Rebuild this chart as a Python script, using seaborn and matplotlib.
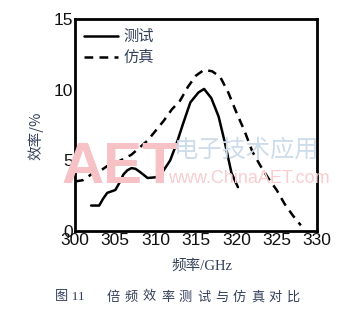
import numpy as np
import pandas as pd
import matplotlib
matplotlib.use("Agg")
import matplotlib.pyplot as plt
import seaborn as sns
from matplotlib.ticker import MultipleLocator

# 测试 (measured) curve
freq_test = [302, 303, 303.5, 304, 305, 305.5, 306, 306.5, 307, 307.5, 308, 309, 310,
             310.5, 311, 311.8, 312.6, 313.4, 314.3, 315.3, 316, 316.9, 317.8, 318.6,
             319.4, 320.2]
eff_test = [1.8, 1.8, 2.3, 2.7, 2.9, 3.4, 4.0, 4.3, 4.45, 4.4, 4.2, 3.75, 3.8,
            4.0, 4.3, 5.0, 6.2, 7.6, 9.1, 9.8, 10.05, 9.4, 8.1, 6.2,
            4.1, 3.1]

# 仿真 (simulated) curve
freq_sim = [300, 301, 302, 303, 304, 305, 306, 307, 308, 309, 310, 311, 312, 313, 314,
            315, 316, 317, 318, 319, 320, 321, 322, 323, 324, 325, 326, 327, 328]
eff_sim = [3.5, 3.6, 4.0, 4.2, 4.6, 4.8, 5.1, 5.4, 5.9, 6.4, 7.1, 7.8, 8.6, 9.2, 10.2,
           11.0, 11.4, 11.3, 10.9, 9.8, 8.4, 7.1, 5.6, 4.6, 3.7, 2.9, 1.9, 1.1, 0.4]

x_ticks = [300, 305, 310, 315, 320, 325, 330]
y_ticks = [0, 5, 10, 15]

caption_head = '图 11'
caption_title = '倍频效率测试与仿真对比'

sns.set_style("white")
plt.rcParams['font.family'] = ['Liberation Sans', 'Noto Sans CJK SC', 'DejaVu Sans']
cjk = ['Noto Sans CJK SC', 'DejaVu Sans']
text_col = '#33405a'

W, H = 358, 317
fig = plt.figure(figsize=(W / 100, H / 100), dpi=100)
ax = fig.add_axes([0.2095, 0.2713, 0.676, 0.6688])

df_test = pd.DataFrame({'freq': freq_test, 'eff': eff_test})
df_sim = pd.DataFrame({'freq': freq_sim, 'eff': eff_sim})

# faint watermark as in the source image
fig.text(62 / W, 1 - 183 / H, 'AET', fontsize=42, fontweight='bold', color='#f7c2c6',
         family=['Liberation Sans Narrow', 'Liberation Sans'], zorder=0)
fig.text(247 / W, 1 - 150 / H, '电子技术应用', fontsize=17.5, color='#cddcea',
         family=cjk, ha='center', va='center', zorder=0)
fig.text(168 / W, 1 - 183 / H, 'www.ChinaAET.com', fontsize=13, color='#f8cdd0', zorder=0)

sns.lineplot(data=df_test, x='freq', y='eff', ax=ax, color='black', linewidth=1.8,
             label='测试')
sns.lineplot(data=df_sim, x='freq', y='eff', ax=ax, color='black', linewidth=1.8,
             linestyle=(0, (3.5, 2.5)), label='仿真')
ax.patch.set_alpha(0)

ax.set_xlim(300, 330)
ax.set_ylim(0, 15)
ax.set_xticks(x_ticks)
ax.set_yticks(y_ticks)
ax.xaxis.set_minor_locator(MultipleLocator(2.5))
ax.yaxis.set_minor_locator(MultipleLocator(2.5))
ax.tick_params(which='both', direction='in', width=1.8, color='black',
               labelsize=12.5, labelcolor='#111111')
ax.tick_params(which='major', length=4, pad=1.5)
ax.tick_params(which='minor', length=3)
for s in ax.spines.values():
    s.set_linewidth(2)
    s.set_color('black')

ax.set_xlabel('')
ax.set_ylabel('')
fig.text(202 / W, 1 - 266 / H, '频率/GHz', fontsize=10.5, color=text_col,
         family=['Liberation Serif', 'Noto Sans CJK SC'], ha='center', va='center')
fig.text(36 / W, 1 - 136 / H, '效率/%', fontsize=10.5, color=text_col,
         family=['Noto Sans CJK SC', 'DejaVu Sans'], ha='center', va='center', rotation=90)

# caption, with the wide character spacing of the printed figure
fig.text(55 / W, 1 - 297 / H, caption_head, fontsize=9.5, color=text_col,
         family=['Liberation Serif', 'Noto Sans CJK SC'], ha='left', va='center')
for i, ch in enumerate(caption_title):
    fig.text((113.5 + 18 * i) / W, 1 - 297 / H, ch, fontsize=9.5, color=text_col,
             family=cjk, ha='center', va='center')

leg = ax.legend(loc='upper left', frameon=False, handlelength=2.2, handletextpad=0.4,
                borderaxespad=0.2, labelspacing=0.25, prop={'family': cjk, 'size': 11})
for t in leg.get_texts():
    t.set_color(text_col)

fig.savefig('out.png', dpi=100)
